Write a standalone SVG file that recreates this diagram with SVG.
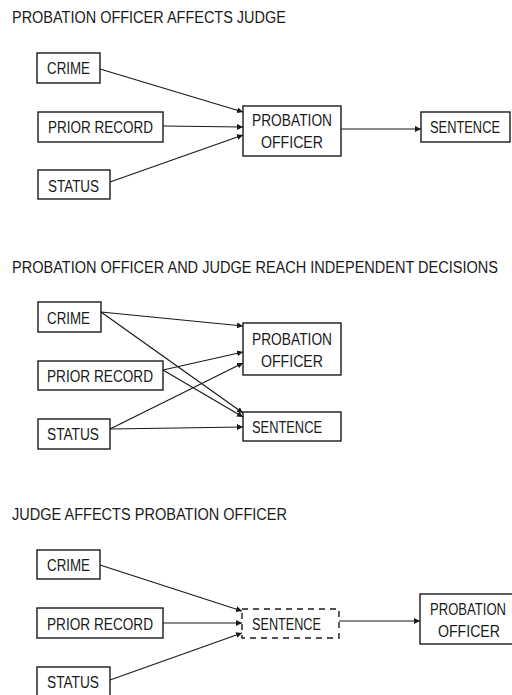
<svg xmlns="http://www.w3.org/2000/svg" width="512" height="695" viewBox="0 0 512 695">
<style>
.box{fill:none;stroke:#1a1a1a;stroke-width:1.4}
.dash{stroke-dasharray:6 5}
.t{font-family:"Liberation Sans",Arial,sans-serif;font-size:16px;fill:#1a1a1a}
.e{fill:none;stroke:#1a1a1a;stroke-width:1.2;marker-end:url(#ah)}
</style>
<defs>
<marker id="ah" markerWidth="6" markerHeight="6" refX="6" refY="3" orient="auto" markerUnits="userSpaceOnUse">
<path d="M0,0 L6,3 L0,6 Z" fill="#1a1a1a"/>
</marker>
</defs>
<rect width="512" height="695" fill="#fff"/>

<!-- Section 1 -->
<text class="t" transform="translate(12,23) scale(0.82,1)" textLength="334" lengthAdjust="spacingAndGlyphs">PROBATION OFFICER AFFECTS JUDGE</text>
<g id="s1-crime"><rect class="box" x="37" y="53" width="63" height="30"/><text class="t" transform="translate(47,74) scale(0.82,1)" textLength="52.4" lengthAdjust="spacingAndGlyphs">CRIME</text></g>
<g id="s1-prior"><rect class="box" x="38" y="112" width="125" height="30"/><text class="t" transform="translate(48,133) scale(0.82,1)" textLength="128" lengthAdjust="spacingAndGlyphs">PRIOR RECORD</text></g>
<g id="s1-status"><rect class="box" x="38" y="170" width="72" height="29"/><text class="t" transform="translate(48,192) scale(0.82,1)" textLength="62.2" lengthAdjust="spacingAndGlyphs">STATUS</text></g>
<g id="s1-po"><rect class="box" x="243" y="106" width="98" height="50"/><text class="t" transform="translate(252,126) scale(0.82,1)" textLength="97.6" lengthAdjust="spacingAndGlyphs">PROBATION</text><text class="t" transform="translate(261,148) scale(0.82,1)" textLength="75.6" lengthAdjust="spacingAndGlyphs">OFFICER</text></g>
<g id="s1-sentence"><rect class="box" x="421" y="112" width="89" height="30"/><text class="t" transform="translate(430,133) scale(0.82,1)" textLength="85.4" lengthAdjust="spacingAndGlyphs">SENTENCE</text></g>
<g id="s1-edges">
<line class="e" x1="100" y1="69" x2="243" y2="112"/>
<line class="e" x1="163" y1="126" x2="243" y2="127"/>
<line class="e" x1="110" y1="182" x2="243" y2="135"/>
<line class="e" x1="341" y1="129" x2="421" y2="129"/>
</g>

<!-- Section 2 -->
<text class="t" transform="translate(12,273) scale(0.82,1)" textLength="592.7" lengthAdjust="spacingAndGlyphs">PROBATION OFFICER AND JUDGE REACH INDEPENDENT DECISIONS</text>
<g id="s2-crime"><rect class="box" x="38" y="302" width="63" height="30"/><text class="t" transform="translate(47,324) scale(0.82,1)" textLength="52.4" lengthAdjust="spacingAndGlyphs">CRIME</text></g>
<g id="s2-prior"><rect class="box" x="38" y="361" width="125" height="29"/><text class="t" transform="translate(47,382) scale(0.82,1)" textLength="129.3" lengthAdjust="spacingAndGlyphs">PRIOR RECORD</text></g>
<g id="s2-status"><rect class="box" x="38" y="419" width="72" height="30"/><text class="t" transform="translate(47,440) scale(0.82,1)" textLength="63.4" lengthAdjust="spacingAndGlyphs">STATUS</text></g>
<g id="s2-po"><rect class="box" x="243" y="323" width="98" height="52"/><text class="t" transform="translate(252,345) scale(0.82,1)" textLength="97.6" lengthAdjust="spacingAndGlyphs">PROBATION</text><text class="t" transform="translate(261,367) scale(0.82,1)" textLength="75.6" lengthAdjust="spacingAndGlyphs">OFFICER</text></g>
<g id="s2-sentence"><rect class="box" x="243" y="412" width="98" height="29"/><text class="t" transform="translate(252,433) scale(0.82,1)" textLength="85.4" lengthAdjust="spacingAndGlyphs">SENTENCE</text></g>
<g id="s2-edges">
<line class="e" x1="101" y1="312" x2="243" y2="326"/>
<line class="e" x1="101" y1="312" x2="243" y2="413"/>
<line class="e" x1="163" y1="370" x2="243" y2="352"/>
<line class="e" x1="163" y1="370" x2="243" y2="417"/>
<line class="e" x1="110" y1="429" x2="243" y2="363"/>
<line class="e" x1="110" y1="429" x2="243" y2="427"/>
</g>

<!-- Section 3 -->
<text class="t" transform="translate(12,520) scale(0.82,1)" textLength="335.4" lengthAdjust="spacingAndGlyphs">JUDGE AFFECTS PROBATION OFFICER</text>
<g id="s3-crime"><rect class="box" x="37" y="550" width="63" height="29"/><text class="t" transform="translate(47,571) scale(0.82,1)" textLength="52.4" lengthAdjust="spacingAndGlyphs">CRIME</text></g>
<g id="s3-prior"><rect class="box" x="37" y="608" width="126" height="30"/><text class="t" transform="translate(47,630) scale(0.82,1)" textLength="129.3" lengthAdjust="spacingAndGlyphs">PRIOR RECORD</text></g>
<g id="s3-status"><rect class="box" x="37" y="667" width="73" height="30"/><text class="t" transform="translate(47,688) scale(0.82,1)" textLength="63.4" lengthAdjust="spacingAndGlyphs">STATUS</text></g>
<g id="s3-sentence"><rect class="box dash" x="242" y="609" width="97" height="29"/><text class="t" transform="translate(252,630) scale(0.82,1)" textLength="84.1" lengthAdjust="spacingAndGlyphs">SENTENCE</text></g>
<g id="s3-po"><rect class="box" x="420" y="594" width="93" height="50"/><text class="t" transform="translate(430,615) scale(0.82,1)" textLength="92.7" lengthAdjust="spacingAndGlyphs">PROBATION</text><text class="t" transform="translate(438,637) scale(0.82,1)" textLength="75.6" lengthAdjust="spacingAndGlyphs">OFFICER</text></g>
<g id="s3-edges">
<line class="e" x1="100" y1="565" x2="242" y2="611"/>
<line class="e" x1="163" y1="623" x2="242" y2="623"/>
<line class="e" x1="110" y1="680" x2="242" y2="633"/>
<line class="e" x1="339" y1="621" x2="420" y2="621"/>
</g>
</svg>
